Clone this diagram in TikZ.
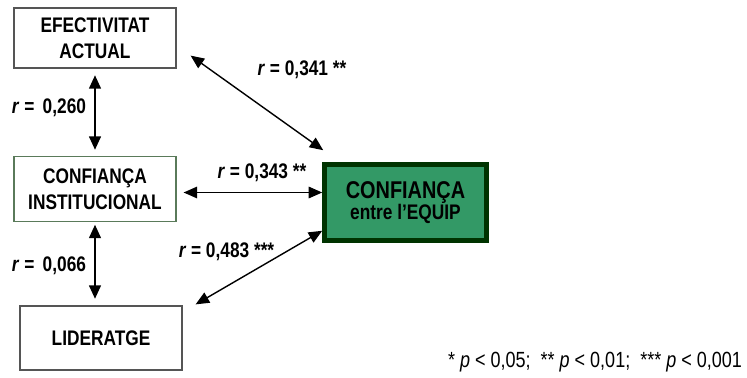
\documentclass[tikz,border=0pt]{standalone}
\usepackage{fontspec}
\setmainfont{Liberation Sans}[FakeStretch=0.82]
\usetikzlibrary{arrows.meta,calc}
\definecolor{boxgray}{HTML}{555555}
\definecolor{boxgreen}{HTML}{5A7A5A}
\definecolor{teamfill}{HTML}{339966}
\definecolor{teamline}{HTML}{003300}
\tikzset{
  var/.style={draw=boxgray, line width=0.7pt, minimum width=3.24cm, minimum height=1.2cm,
    align=center, font=\fontsize{12}{14.5}\selectfont\bfseries},
  team/.style={draw=teamline, fill=teamfill, line width=2.6pt, minimum width=3.24cm,
    minimum height=1.52cm, align=center, font=\bfseries},
  corr/.style={font=\fontsize{12}{14}\selectfont\bfseries},
  dbl/.style={{Triangle[length=0.27cm,width=0.23cm]}-{Triangle[length=0.27cm,width=0.23cm]}, line width=0.8pt},
  dblthick/.style={dbl, line width=1.5pt}
}
\newcommand{\rr}{\textit{r}}
\begin{document}
\begin{tikzpicture}
\useasboundingbox (0,0) rectangle (14.94,-7.56);
% variables
\node[var] (ea) at (1.9,-0.76) {EFECTIVITAT\\ACTUAL};
\node[var, draw=boxgreen, minimum height=1.3cm] (ci) at (1.9,-3.78) {CONFIAN\c{C}A\\INSTITUCIONAL};
\node[var, minimum height=1.28cm] (lid) at (2.02,-6.76) {LIDERATGE};
\node[team] (ce) at (8.11,-4.05) {\fontsize{13.8}{15.5}\selectfont CONFIAN\c{C}A\\\fontsize{12}{14}\selectfont entre l’EQUIP};
% correlations
\draw[dblthick, shorten <=0.13cm, shorten >=0.12cm] (ea) -- (ci);
\draw[dblthick, shorten <=0.05cm, shorten >=0.13cm] (ci) -- (ci |- lid.north);
\coordinate (eaout) at ($(ea.south east)+(0.28,0.26)$);
\coordinate (ceintop) at ($(ce.north west)+(0.02,0.24)$);
\draw[dbl] (eaout) -- (ceintop);
\coordinate (ciout) at ($(ci.east)+(0.14,-0.07)$);
\draw[dbl] (ciout) -- (ciout -| ce.west);
\coordinate (lidout) at ($(lid.north east)+(0.26,0.02)$);
\coordinate (ceinbot) at ($(ce.south west)+(0,0.24)$);
\draw[dbl] (lidout) -- (ceinbot);
% labels
\node[corr] (r1) at (0.98,-2.16) {\rr{} = \,0,260};
\node[corr] (r2) at (0.98,-5.32) {\rr{} = \,0,066};
\node[corr] (r3) at (6.04,-1.4) {\rr{} = 0,341 **};
\node[corr] (r4) at (5.24,-3.46) {\rr{} = 0,343 **};
\node[corr] (r5) at (4.53,-5.04) {\rr{} = 0,483 ***};
\node[font=\fontsize{12.5}{14}\selectfont] (sig) at (11.9,-7.24)
  {* \textit{p} < 0,05; \ ** \textit{p} < 0,01; \ *** \textit{p} < 0,001};
\end{tikzpicture}
\end{document}
